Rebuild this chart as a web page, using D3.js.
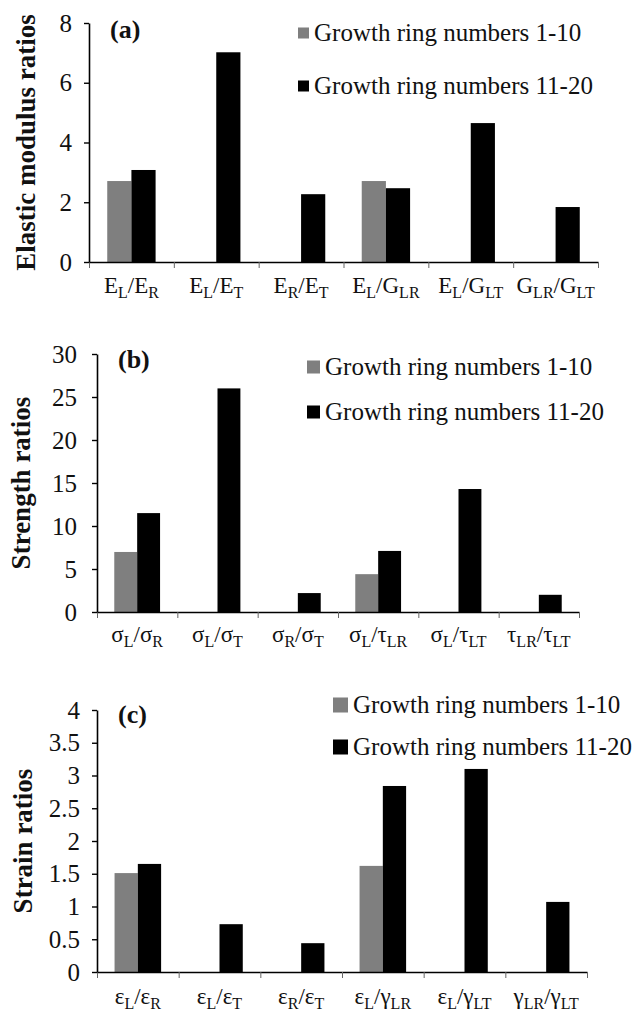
<!DOCTYPE html>
<html>
<head>
<meta charset="utf-8">
<script src="https://cdn.jsdelivr.net/npm/d3@7"></script>
<style>
  html, body { margin: 0; padding: 0; background: #fff; }
  svg { display: block; font-family: "Liberation Serif", "Times New Roman", serif; }
</style>
</head>
<body>
<svg id="chart" width="633" height="1018"></svg>
<script>
const seriesNames = ["Growth ring numbers 1-10", "Growth ring numbers 11-20"];
const seriesColors = ["#7f7f7f", "#000000"];

// each label: [main, sub, main, sub]
const modulusLabels = [
  ["E", "L", "E", "R"], ["E", "L", "E", "T"], ["E", "R", "E", "T"],
  ["E", "L", "G", "LR"], ["E", "L", "G", "LT"], ["G", "LR", "G", "LT"],
];
const modulusEarly = [2.71, 0, 0, 2.71, 0, 0];
const modulusLate = [3.08, 7.02, 2.27, 2.47, 4.65, 1.84];
const modulusTicks = [0, 2, 4, 6, 8];

const strengthLabels = [
  ["σ", "L", "σ", "R"], ["σ", "L", "σ", "T"], ["σ", "R", "σ", "T"],
  ["σ", "L", "τ", "LR"], ["σ", "L", "τ", "LT"], ["τ", "LR", "τ", "LT"],
];
const strengthEarly = [6.98, 0, 0, 4.4, 0, 0];
const strengthLate = [11.5, 26.0, 2.2, 7.1, 14.3, 2.0];
const strengthTicks = [0, 5, 10, 15, 20, 25, 30];

const strainLabels = [
  ["ε", "L", "ε", "R"], ["ε", "L", "ε", "T"], ["ε", "R", "ε", "T"],
  ["ε", "L", "γ", "LR"], ["ε", "L", "γ", "LT"], ["γ", "LR", "γ", "LT"],
];
const strainEarly = [1.51, 0, 0, 1.62, 0, 0];
const strainLate = [1.65, 0.73, 0.44, 2.84, 3.10, 1.07];
const strainTicks = [0, 0.5, 1, 1.5, 2, 2.5, 3, 3.5, 4];

const svg = d3.select("#chart");

function drawPanel(p) {
  const g = svg.append("g");
  const n = p.labels.length;

  const x0 = d3.scaleBand().domain(d3.range(n)).range([p.left, p.right]);
  const bw = x0.bandwidth();
  const barW = bw * 0.285;
  const x1 = d3.scaleBand().domain([0, 1]).range([bw / 2 - barW, bw / 2 + barW]);
  const xEdge = d3.scaleLinear().domain([0, n]).range([p.left, p.right]);
  const y = d3.scaleLinear().domain([0, p.max]).range([p.bottom, p.top]);

  const rows = d3.range(n).map((i) => ({ i, values: [p.early[i], p.late[i]] }));

  g.selectAll(".grp")
    .data(rows)
    .join("g")
    .attr("class", "grp")
    .attr("transform", (d) => `translate(${x0(d.i)},0)`)
    .selectAll("rect")
    .data((d) => d.values.map((v, s) => ({ v, s })).filter((d) => d.v > 0))
    .join("rect")
    .attr("x", (d) => x1(d.s))
    .attr("width", x1.bandwidth())
    .attr("y", (d) => y(d.v))
    .attr("height", (d) => y(0) - y(d.v))
    .attr("fill", (d) => seriesColors[d.s]);

  // x axis, ticks sit on the category boundaries
  const xAxis = g.append("g")
    .attr("transform", `translate(0,${p.bottom})`)
    .call(d3.axisBottom(xEdge).tickValues(d3.range(n + 1)).tickFormat("").tickSize(6).tickSizeOuter(0));
  xAxis.select(".domain").attr("stroke", "#000").attr("stroke-width", 1.6);
  xAxis.selectAll(".tick line").attr("stroke", "#666").attr("stroke-width", 1);

  const yAxis = g.append("g")
    .attr("transform", `translate(${p.left},0)`)
    .call(d3.axisLeft(y).tickValues(p.ticks).tickSize(5).tickSizeOuter(0).tickPadding(p.tickPad)
      .tickFormat(d3.format("")));
  yAxis.select(".domain").attr("stroke", "#000").attr("stroke-width", 1.6);
  yAxis.selectAll(".tick line").attr("stroke", "#000").attr("stroke-width", 1.4);
  yAxis.selectAll(".tick text")
    .attr("font-family", "Liberation Serif")
    .attr("font-size", 25)
    .attr("fill", "#111");

  // category labels with subscripts
  const lab = g.selectAll(".cat")
    .data(p.labels)
    .join("text")
    .attr("class", "cat")
    .attr("x", (d, i) => x0(i) + bw / 2)
    .attr("y", p.labelY)
    .attr("text-anchor", "middle")
    .attr("font-size", 23)
    .attr("fill", "#111");
  lab.each(function (d) {
    const t = d3.select(this);
    t.append("tspan").text(d[0]);
    t.append("tspan").attr("font-size", 16).attr("dy", 5).text(d[1]);
    t.append("tspan").attr("dy", -5).text("/");
    t.append("tspan").text(d[2]);
    t.append("tspan").attr("font-size", 16).attr("dy", 5).text(d[3]);
  });

  g.append("text")
    .attr("transform", `translate(${p.titleX},${(p.top + p.bottom) / 2}) rotate(-90)`)
    .attr("text-anchor", "middle")
    .attr("font-size", 27)
    .attr("font-weight", "bold")
    .attr("fill", "#111")
    .text(p.title);

  g.append("text")
    .attr("x", p.left + 21)
    .attr("y", p.tagY)
    .attr("font-size", 26)
    .attr("font-weight", "bold")
    .attr("fill", "#111")
    .text(p.tag);

  const leg = g.selectAll(".leg")
    .data(seriesNames)
    .join("g")
    .attr("class", "leg")
    .attr("transform", (d, i) => `translate(${p.legX},${p.legY[i]})`);
  leg.append("rect")
    .attr("x", 0)
    .attr("y", -p.legBox / 2)
    .attr("width", p.legBox)
    .attr("height", p.legBox)
    .attr("fill", (d, i) => seriesColors[i]);
  leg.append("text")
    .attr("x", p.legBox + 5)
    .attr("dy", "0.33em")
    .attr("font-size", 25)
    .attr("fill", "#111")
    .text((d) => d);
}

drawPanel({
  labels: modulusLabels, early: modulusEarly, late: modulusLate, ticks: modulusTicks, max: 8,
  left: 89, right: 598, top: 23, bottom: 262, tickPad: 12, labelY: 293,
  title: "Elastic modulus ratios", titleX: 35, tag: "(a)", tagY: 38,
  legX: 298, legY: [33, 86], legBox: 11,
});

drawPanel({
  labels: strengthLabels, early: strengthEarly, late: strengthLate, ticks: strengthTicks, max: 30,
  left: 97, right: 579, top: 354, bottom: 612, tickPad: 15, labelY: 642,
  title: "Strength ratios", titleX: 30, tag: "(b)", tagY: 368,
  legX: 307, legY: [367, 412], legBox: 13,
});

drawPanel({
  labels: strainLabels, early: strainEarly, late: strainLate, ticks: strainTicks, max: 4,
  left: 97, right: 587, top: 710, bottom: 972, tickPad: 12, labelY: 1004,
  title: "Strain ratios", titleX: 32, tag: "(c)", tagY: 723,
  legX: 333, legY: [705, 747], legBox: 15,
});
</script>
</body>
</html>
